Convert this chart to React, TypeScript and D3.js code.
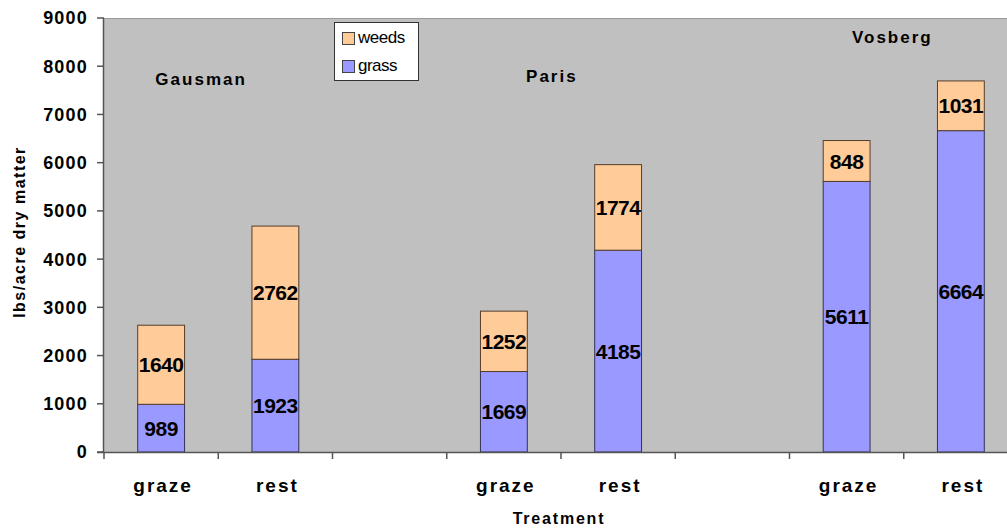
import React from 'react';
import * as d3 from 'd3';

// slots along the x axis, the empty ones separate the sites
const slots = ['g1', 'r1', 'b1', 'g2', 'r2', 'b2', 'g3', 'r3'];
const slotLabels = ['graze', 'rest', '', 'graze', 'rest', '', 'graze', 'rest'];
const grass = [989, 1923, 0, 1669, 4185, 0, 5611, 6664];
const weeds = [1640, 2762, 0, 1252, 1774, 0, 848, 1031];
const yTicks = [0, 1000, 2000, 3000, 4000, 5000, 6000, 7000, 8000, 9000];

// site names, placed at a slot position and a value
const sites = ['Gausman', 'Paris', 'Vosberg'];
const sitePos = [0.85, 3.92, 6.9];
const siteVal = [7610, 7680, 8480];

const W = 1007;
const H = 529;
const m = { left: 104, top: 18, right: 1018, bottom: 452 };
const font = 'Arial, "Liberation Sans", Helvetica, sans-serif';

const App: React.FC = () => {
  const x = d3.scaleBand<string>().domain(slots).range([m.left, m.right]).paddingInner(0.59).paddingOuter(0.295);
  const xs = d3.scaleLinear().domain([0, slots.length]).range([m.left, m.right]);
  const y = d3.scaleLinear().domain([0, 9000]).range([m.bottom, m.top]);

  return (
    <div style={{ position: 'fixed', left: 0, top: 0 }}>
      <svg width={W} height={H} style={{ display: 'block', background: 'white' }}>
        <rect x={m.left} y={m.top} width={m.right - m.left} height={m.bottom - m.top} fill="#c0c0c0" />
        <line x1={m.left} x2={m.right} y1={m.top + 0.5} y2={m.top + 0.5} stroke="#9a9a9a" />

        {slots.map((s, i) => {
          if (grass[i] + weeds[i] === 0) return null;
          const bx = x(s)!;
          const bw = x.bandwidth();
          const yg = y(grass[i]);
          const yw = y(grass[i] + weeds[i]);
          return (
            <g key={s}>
              <rect x={bx} y={yg} width={bw} height={y(0) - yg} fill="#9999ff" stroke="#333355" strokeWidth={1} />
              <rect x={bx} y={yw} width={bw} height={yg - yw} fill="#ffcc99" stroke="#553d2a" strokeWidth={1} />
              <text x={bx + bw / 2} y={y(grass[i] / 2)} dy="0.36em" textAnchor="middle"
                fontFamily={font} fontWeight="bold" fontSize={21} letterSpacing={-0.5}>{grass[i]}</text>
              <text x={bx + bw / 2} y={y(grass[i] + weeds[i] / 2)} dy="0.36em" textAnchor="middle"
                fontFamily={font} fontWeight="bold" fontSize={21} letterSpacing={-0.5}>{weeds[i]}</text>
            </g>
          );
        })}

        {/* axes */}
        <line x1={m.left - 0.5} x2={m.left - 0.5} y1={m.top} y2={m.bottom} stroke="#555" strokeWidth={1.5} />
        <line x1={m.left - 7} x2={m.right} y1={m.bottom + 0.5} y2={m.bottom + 0.5} stroke="#555" strokeWidth={1.5} />
        {yTicks.map(t => (
          <g key={t}>
            <line x1={m.left - 7} x2={m.left} y1={y(t)} y2={y(t)} stroke="#555" strokeWidth={1.5} />
            <text x={m.left - 16} y={y(t)} dy="0.36em" textAnchor="end" fontFamily={font}
              fontWeight="bold" fontSize={18} letterSpacing={1.2}>{t}</text>
          </g>
        ))}
        {d3.range(slots.length + 1).map(i => (
          <line key={i} x1={xs(i)} x2={xs(i)} y1={m.bottom} y2={m.bottom + 7} stroke="#555" strokeWidth={1.5} />
        ))}
        {slots.map((s, i) => (
          <text key={s} x={x(s)! + x.bandwidth() / 2 + 2} y={m.bottom + 40} textAnchor="middle" fontFamily={font}
            fontWeight="bold" fontSize={19} letterSpacing={2}>{slotLabels[i]}</text>
        ))}

        <text x={(m.left + m.right) / 2 - 2} y={524} textAnchor="middle" fontFamily={font}
          fontWeight="bold" fontSize={16} letterSpacing={1.8}>Treatment</text>
        <text transform={`translate(25, 232) rotate(-90)`} textAnchor="middle"
          fontFamily={font} fontWeight="bold" fontSize={16} letterSpacing={1.5}>lbs/acre dry matter</text>

        {sites.map((s, i) => (
          <text key={s} x={xs(sitePos[i])} y={y(siteVal[i])} textAnchor="middle" fontFamily={font}
            fontWeight="bold" fontSize={17} letterSpacing={2}>{s}</text>
        ))}

        {/* legend */}
        <g transform="translate(334, 22)">
          <rect x={0.5} y={0.5} width={84} height={58} fill="white" stroke="#333" />
          <rect x={8.5} y={10.5} width={12} height={12} fill="#ffcc99" stroke="#444" />
          <rect x={8.5} y={38.5} width={12} height={12} fill="#9999ff" stroke="#444" />
          <text x={24} y={15} dy="0.36em" fontFamily={font} fontSize={17} letterSpacing={-0.5}>weeds</text>
          <text x={24} y={43} dy="0.36em" fontFamily={font} fontSize={17} letterSpacing={-0.5}>grass</text>
        </g>
      </svg>
    </div>
  );
};

export default App;
